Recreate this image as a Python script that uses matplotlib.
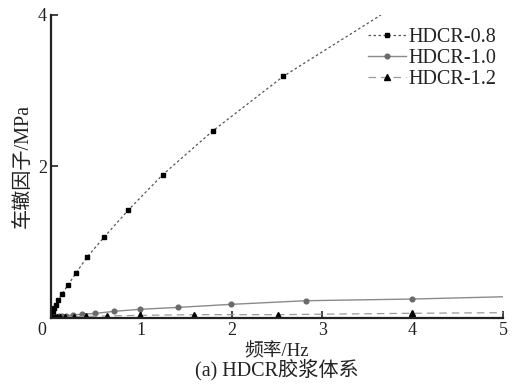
import matplotlib
matplotlib.use("Agg")
import matplotlib.pyplot as plt

plt.rcParams['font.family'] = ['Liberation Serif', 'Noto Sans CJK SC']

# Rutting factor G*/sin(delta) vs. frequency for three binder mixes
freq_08 = [0.005, 0.01, 0.02, 0.03, 0.05, 0.08, 0.122, 0.188, 0.28, 0.40, 0.59, 0.855, 1.235, 1.79, 2.57, 3.65]
rut_08 = [0.03, 0.05, 0.085, 0.128, 0.171, 0.237, 0.317, 0.435, 0.60, 0.805, 1.07, 1.425, 1.89, 2.47, 3.19, 4.0]

freq_10 = [0.01, 0.03, 0.06, 0.087, 0.12, 0.17, 0.245, 0.34, 0.487, 0.70, 0.99, 1.41, 1.99, 2.82, 3.99, 5.0]
rut_10 = [0.005, 0.012, 0.018, 0.022, 0.027, 0.032, 0.04, 0.05, 0.06, 0.088, 0.115, 0.14, 0.18, 0.228, 0.25, 0.28]

freq_12 = [0.01, 0.025, 0.04, 0.063, 0.10, 0.158, 0.25, 0.39, 0.62, 0.99, 1.585, 2.51, 3.99, 5.0]
rut_12 = [0.003, 0.006, 0.008, 0.010, 0.012, 0.015, 0.018, 0.022, 0.027, 0.035, 0.044, 0.044, 0.062, 0.07]

labels = ['HDCR-0.8', 'HDCR-1.0', 'HDCR-1.2']
x_ticks = [1, 2, 3, 4, 5]
y_ticks = [2, 4]

fig = plt.figure(figsize=(5.22, 3.84), dpi=100)
ax = fig.add_axes([0.0977, 0.1719, 0.8659, 0.7891])

ax.plot(freq_08, rut_08, linestyle=(0, (2, 2)), color='#555555', linewidth=0.9,
        marker='s', markersize=3.3, markerfacecolor='black', markeredgecolor='black',
        markevery=list(range(len(freq_08) - 1)), label=labels[0])
ax.plot(freq_10, rut_10, linestyle='-', color='#8a8a8a', linewidth=1.0,
        marker='o', markersize=3.4, markerfacecolor='#6a6a6a', markeredgecolor='#6a6a6a',
        markevery=list(range(len(freq_10) - 1)), label=labels[1])
ax.plot(freq_12, rut_12, linestyle=(0, (6, 4)), color='#9a9a9a', linewidth=0.9,
        marker='^', markersize=4.2, markerfacecolor='black', markeredgecolor='black',
        markevery=list(range(len(freq_12) - 1)), label=labels[2])

ax.set_xlim(0, 5)
ax.set_ylim(0, 4)
ax.set_xticks(x_ticks)
ax.set_yticks(y_ticks)
ax.tick_params(direction='in', length=5, width=1.2, labelsize=13, colors='#222222', pad=3)

for side in ('top', 'right'):
    ax.spines[side].set_visible(False)
for side in ('left', 'bottom'):
    ax.spines[side].set_linewidth(1.6)
    ax.spines[side].set_color('#222222')

# shared origin label
ax.text(-0.01, -0.012, '0', transform=ax.transAxes, ha='right', va='top',
        fontsize=13, color='#222222')

ax.set_ylabel('车辙因子/MPa', fontsize=14.5, color='#222222', labelpad=4)
ax.set_xlabel('频率/Hz', fontsize=13.5, color='#222222', labelpad=3)
fig.text(0.531, 0.008, '(a) HDCR胶浆体系', ha='center', va='bottom', fontsize=14.5, color='#222222')

leg = ax.legend(loc='upper right', bbox_to_anchor=(1.016, 1.004), frameon=False, fontsize=14.5,
                handlelength=1.9, handletextpad=0.1, labelspacing=0.1, borderpad=0.2)
for t in leg.get_texts():
    t.set_color('#222222')

fig.savefig('out.png', dpi=100, facecolor='white')
